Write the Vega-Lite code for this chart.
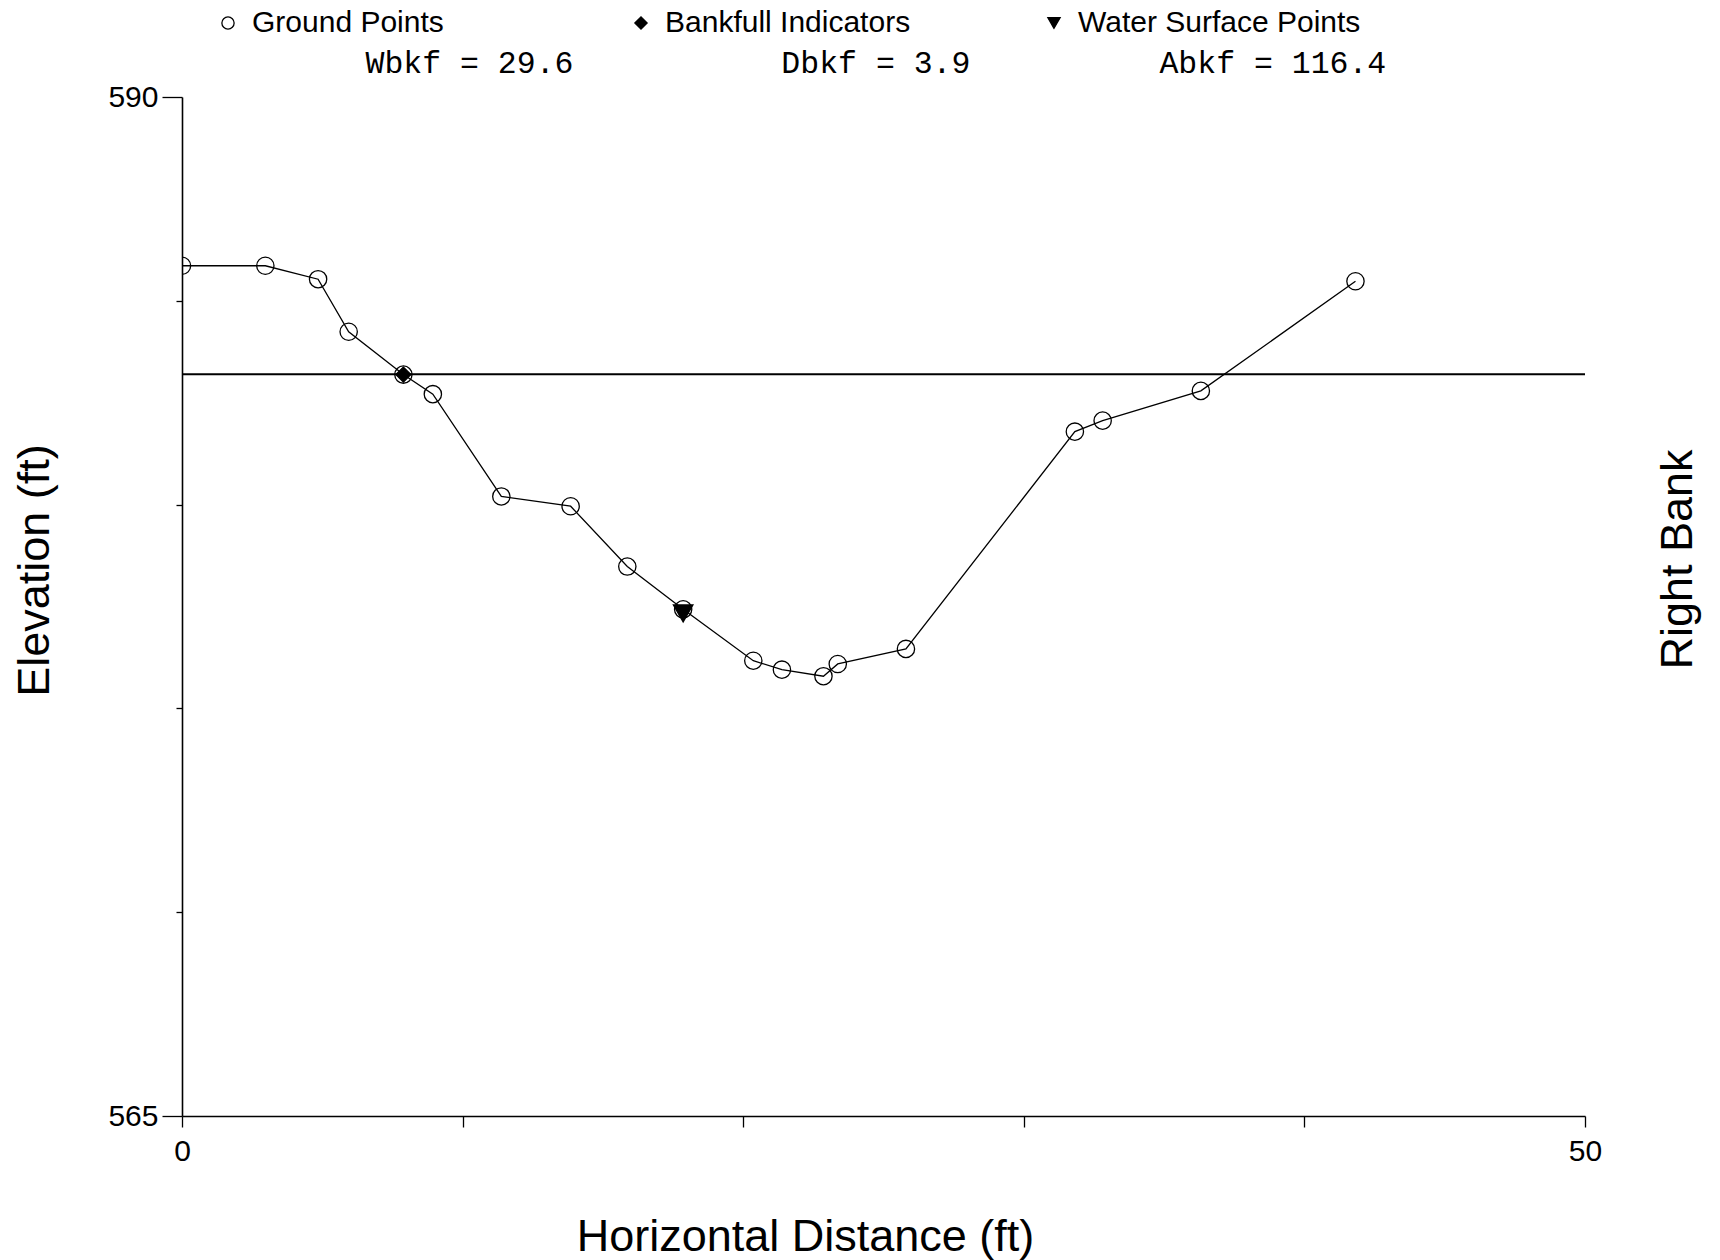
{
  "$schema": "https://vega.github.io/schema/vega-lite/v6.json",
  "autosize": {"type": "none"},
  "padding": {"left": 182, "top": 97, "right": 135, "bottom": 144},
  "width": 1403,
  "height": 1019,
  "background": "white",
  "config": {
    "view": {"stroke": null},
    "font": "Liberation Sans",
    "axis": {"domainColor": "black", "tickColor": "black", "labelColor": "black", "titleColor": "black", "grid": false, "domainWidth": 1.6, "tickWidth": 1.3, "labelFont": "Liberation Sans", "titleFont": "Liberation Sans", "titleFontWeight": "normal"},
    "legend": {"symbolSize": 150, "symbolStrokeWidth": 1.3}
  },
  "datasets": {
    "points": [
      {"dist": 0.0, "elev": 585.86, "type": "Ground Points"},
      {"dist": 2.97, "elev": 585.86, "type": "Ground Points"},
      {"dist": 4.85, "elev": 585.53, "type": "Ground Points"},
      {"dist": 5.94, "elev": 584.24, "type": "Ground Points"},
      {"dist": 7.89, "elev": 583.19, "type": "Ground Points"},
      {"dist": 8.94, "elev": 582.71, "type": "Ground Points"},
      {"dist": 11.38, "elev": 580.2, "type": "Ground Points"},
      {"dist": 13.85, "elev": 579.96, "type": "Ground Points"},
      {"dist": 15.87, "elev": 578.48, "type": "Ground Points"},
      {"dist": 17.86, "elev": 577.43, "type": "Ground Points"},
      {"dist": 20.36, "elev": 576.17, "type": "Ground Points"},
      {"dist": 21.38, "elev": 575.95, "type": "Ground Points"},
      {"dist": 22.86, "elev": 575.79, "type": "Ground Points"},
      {"dist": 23.37, "elev": 576.09, "type": "Ground Points"},
      {"dist": 25.8, "elev": 576.46, "type": "Ground Points"},
      {"dist": 31.82, "elev": 581.79, "type": "Ground Points"},
      {"dist": 32.81, "elev": 582.06, "type": "Ground Points"},
      {"dist": 36.31, "elev": 582.79, "type": "Ground Points"},
      {"dist": 41.82, "elev": 585.48, "type": "Ground Points"},
      {"dist": 7.89, "elev": 583.19, "type": "Bankfull Indicators"},
      {"dist": 17.86, "elev": 577.33, "type": "Water Surface Points"}
    ],
    "bankfull": [
      {"start": 0, "end": 50, "elev": 583.2}
    ]
  },
  "layer": [
    {
      "data": {"name": "bankfull"},
      "mark": {"type": "rule", "color": "black", "strokeWidth": 2},
      "encoding": {
        "x": {"field": "start", "type": "quantitative", "scale": {"domain": [0, 50], "nice": false},
          "axis": {"orient": "bottom", "values": [0, 10, 20, 30, 40, 50], "labelExpr": "datum.value == 0 || datum.value == 50 ? datum.label : ''", "tickSize": 11, "labelFontSize": 30, "labelPadding": 9, "labelFlush": false,
            "title": "Horizontal Distance (ft)", "titleFontSize": 45, "titleX": 623, "titleY": 120, "titleBaseline": "middle", "titleAlign": "center"}},
        "x2": {"field": "end"},
        "y": {"field": "elev", "type": "quantitative", "scale": {"domain": [565, 590], "nice": false, "zero": false},
          "axis": {"orient": "left", "values": [565, 570, 575, 580, 585, 590], "labelExpr": "datum.value == 565 || datum.value == 590 ? datum.label : ''",
            "tickSize": {"condition": {"test": "datum.value == 565 || datum.value == 590", "value": 20}, "value": 6},
            "labelFontSize": 30, "labelPadding": 4,
            "title": "Elevation (ft)", "titleFontSize": 45, "titleAngle": 270, "titleX": -148, "titleY": 473, "titleBaseline": "middle", "titleAlign": "center"}}
      }
    },
    {
      "data": {"name": "points"},
      "transform": [{"filter": "datum.type == 'Ground Points'"}],
      "mark": {"type": "line", "color": "black", "strokeWidth": 1.3},
      "encoding": {
        "x": {"field": "dist", "type": "quantitative", "axis": null},
        "y": {"field": "elev", "type": "quantitative", "axis": null},
        "order": {"field": "dist", "type": "quantitative"}
      }
    },
    {
      "data": {"name": "points"},
      "transform": [{"filter": "datum.type == 'Ground Points'"}],
      "mark": {"type": "point", "filled": true, "strokeWidth": 1.3, "size": 300, "clip": true, "opacity": 1},
      "encoding": {
        "x": {"field": "dist", "type": "quantitative", "axis": null},
        "y": {"field": "elev", "type": "quantitative", "axis": null},
        "shape": {"field": "type", "type": "nominal",
          "scale": {"domain": ["Ground Points", "Bankfull Indicators", "Water Surface Points"], "range": ["circle", "diamond", "triangle-down"]},
          "legend": {"orient": "none", "legendX": 31, "legendY": -89, "direction": "horizontal", "columns": 3, "title": null, "labelFontSize": 30, "labelColor": "black", "labelFont": "Liberation Sans", "symbolSize": 150, "gridAlign": "all", "columnPadding": 91, "labelOffset": 9, "symbolStrokeColor": "black", "symbolStrokeWidth": 1.3, "labelLimit": 600}},
        "fill": {"field": "type", "type": "nominal",
          "scale": {"domain": ["Ground Points", "Bankfull Indicators", "Water Surface Points"], "range": ["transparent", "black", "black"]}},
        "stroke": {"field": "type", "type": "nominal",
          "scale": {"domain": ["Ground Points", "Bankfull Indicators", "Water Surface Points"], "range": ["black", "black", "black"]}}
      }
    },
    {
      "data": {"name": "points"},
      "transform": [{"filter": "datum.type == 'Bankfull Indicators'"}],
      "mark": {"type": "point", "filled": true, "strokeWidth": 1.3, "size": 225, "clip": true, "opacity": 1},
      "encoding": {
        "x": {"field": "dist", "type": "quantitative", "axis": null},
        "y": {"field": "elev", "type": "quantitative", "axis": null},
        "shape": {"field": "type", "type": "nominal"},
        "fill": {"field": "type", "type": "nominal"},
        "stroke": {"field": "type", "type": "nominal"}
      }
    },
    {
      "data": {"name": "points"},
      "transform": [{"filter": "datum.type == 'Water Surface Points'"}],
      "mark": {"type": "point", "filled": true, "strokeWidth": 1.3, "size": 380, "clip": true, "opacity": 1},
      "encoding": {
        "x": {"field": "dist", "type": "quantitative", "axis": null},
        "y": {"field": "elev", "type": "quantitative", "axis": null},
        "shape": {"field": "type", "type": "nominal"},
        "fill": {"field": "type", "type": "nominal"},
        "stroke": {"field": "type", "type": "nominal"}
      }
    },
    {
      "data": {"name": "points"},
      "mark": {"type": "point", "opacity": 0},
      "encoding": {
        "x": {"field": "dist", "type": "quantitative",
          "axis": {"orient": "top", "domain": false, "ticks": false, "labels": false,
            "title": "Wbkf = 29.6\u00a0\u00a0\u00a0\u00a0\u00a0\u00a0\u00a0\u00a0\u00a0\u00a0\u00a0Dbkf = 3.9\u00a0\u00a0\u00a0\u00a0\u00a0\u00a0\u00a0\u00a0\u00a0\u00a0Abkf = 116.4",
            "titleFont": "Liberation Mono", "titleFontSize": 31.5, "titleX": 183, "titleY": -34, "titleAlign": "left", "titleBaseline": "middle"}},
        "y": {"field": "elev", "type": "quantitative",
          "axis": {"orient": "right", "domain": false, "ticks": false, "labels": false,
            "title": "Right Bank", "titleFontSize": 45, "titleAngle": 270, "titleX": 92, "titleY": 462, "titleBaseline": "middle", "titleAlign": "center"}}
      }
    }
  ],
  "resolve": {"axis": {"x": "independent", "y": "independent"}}
}
